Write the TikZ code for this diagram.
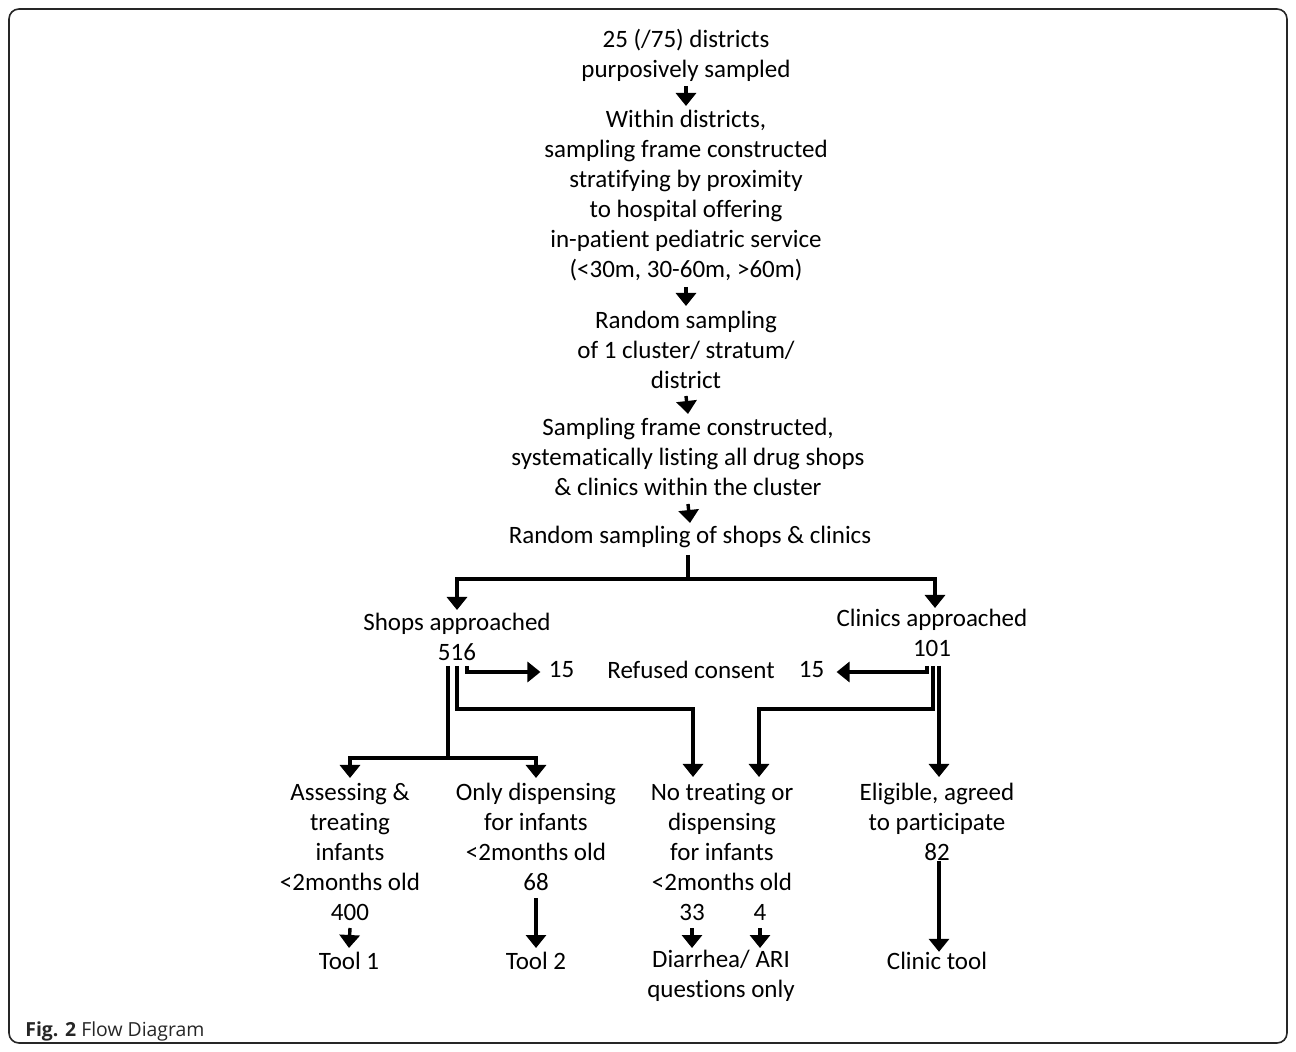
\documentclass[tikz,border=0pt]{standalone}
\usepackage{fontspec}
\setmainfont{Carlito}[Ligatures={NoCommon}]
\newfontfamily\capfont{Open Sans}
\usetikzlibrary{arrows.meta,calc}
\begin{document}
\begin{tikzpicture}[x=0.5pt,y=-0.5pt,
  txt/.style={align=center,inner sep=0pt,font=\fontsize{12.5}{15}\selectfont,text=black},
  ln/.style={line width=1.7pt,draw=black},
  arr/.style={ln,-{Triangle[width=10pt,length=6.5pt]}},
]
\useasboundingbox (0,0) rectangle (1296,1052);
\draw[line width=0.8pt,rounded corners=5pt,draw=black!85] (9,9) rectangle (1287,1043);

% nodes
\node[txt] (n1) at (686,55) {25 (/75) districts\\purposively sampled};
\node[txt] (n2) at (686,196) {Within districts,\\sampling frame constructed\\stratifying by proximity\\to hospital offering\\in-patient pediatric service\\(<30m, 30-60m, >60m)};
\node[txt] (n3) at (686,350) {Random sampling\\of 1 cluster/ stratum/\\district};
\node[txt] (n4) at (688,457) {Sampling frame constructed,\\systematically listing all drug shops\\\& clinics within the cluster};
\node[txt] (n5) at (690,537) {Random sampling of shops \& clinics};
\node[txt] (shops) at (457,637) {Shops approached\\516};
\node[txt] (clinics) at (932,633) {Clinics approached\\101};
\node[txt] (ref) at (691,670) {Refused consent};
\node[txt] (r1) at (561.5,670) {15};
\node[txt] (r2) at (811.5,670) {15};
\node[txt] (b1) at (350,852) {Assessing \&\\treating\\infants\\<2months old\\400};
\node[txt] (b2) at (536,837) {Only dispensing\\for infants\\<2months old\\68};
\node[txt] (b3) at (722,837) {No treating or\\dispensing\\for infants\\<2months old};
\node[txt] (d33) at (692,912) {33};
\node[txt] (d4) at (760,912) {4};
\node[txt] (b4) at (937,822) {Eligible, agreed\\to participate\\82};
\node[txt] (t1) at (349,961) {Tool 1};
\node[txt] (t2) at (536,961) {Tool 2};
\node[txt] (t3) at (721,976) {Diarrhea/ ARI\\questions only};
\node[txt] (t4) at (937,961) {Clinic tool};
\node[anchor=base west,inner sep=0pt,font=\capfont\fontsize{9.7}{11}\selectfont,text=black!85] (cap) at (25,1036) {\textbf{Fig. 2} Flow Diagram};

% junction coordinates
\coordinate (sp) at (688,579);
\coordinate (cT) at (935,608);
\coordinate (jL) at (448,758);
\coordinate (jM) at (457,709);
\coordinate (h1) at (467,672);
\coordinate (h2) at (927,672);
\coordinate (cM) at (933,709);
\coordinate (cR) at (939,777);
\coordinate (b3L) at (693,777);
\coordinate (b3R) at (759,777);

% top chain
\draw[arr] (n1.south |- 0,86) -- (n2.north |- 0,106);
\draw[arr] (n2.south |- 0,287) -- (n3.north |- 0,306);
\draw[arr] (n3.south |- 0,396) -- (n4.north |- 0,414);
\draw[arr] (n4.south |- 0,504) -- (n5.north |- 0,523);

% split
\draw[ln] (sp |- 0,555) -- (sp);
\draw[arr] (sp) -| (shops.north |- 0,610);
\draw[arr] (sp) -| (cT);

% shops branches
\draw[ln] (jL |- 0,666) -- (jL);
\draw[arr] (jL) -| (b1.north |- 0,778);
\draw[arr] (jL) -| (b2.north |- 0,778);
\draw[arr] (jM |- 0,666) -- (jM) -| (b3L);
\draw[arr,shorten >=4pt] (h1 |- 0,666) -- (h1) -- (h1 -| r1.west);

% clinics branches
\draw[arr,shorten >=6pt] (h2 |- 0,666) -- (h2) -- (h2 -| r2.east);
\draw[arr] (cM |- 0,666) -- (cM) -| (b3R);
\draw[arr] (cR |- 0,666) -- (cR);

% bottom
\draw[arr] (b1.south |- 0,928) -- (t1.north |- 0,948);
\draw[arr] (b2.south |- 0,898) -- (t2.north |- 0,948);
\draw[arr] (d33 |- 0,928) -- (d33 |- 0,948);
\draw[arr] (d4 |- 0,928) -- (d4 |- 0,948);
\draw[arr] (b4.south -| cR |- 0,870) -- (t4.north -| cR |- 0,945);
\end{tikzpicture}
\end{document}
